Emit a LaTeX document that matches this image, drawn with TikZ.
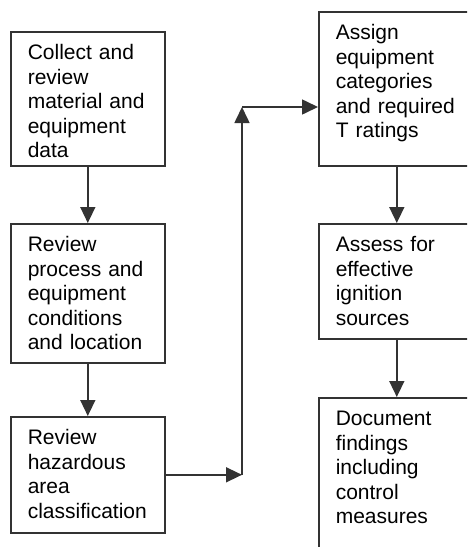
\documentclass[tikz,border=0pt]{standalone}
\usepackage{fontspec}
\setmainfont{Liberation Sans}
\usetikzlibrary{arrows.meta}
\hyphenpenalty=10000
\tikzset{
  stepbox/.style={draw=black!80, line width=1.6pt, rectangle, anchor=north west, align=left,
    inner xsep=17pt, inner ysep=0pt, text height=28pt, font=\fontsize{21}{24.5}\selectfont},
  flow/.style={draw=black!80, line width=1.6pt, -{Triangle[width=15pt,length=16pt]}}
}
\begin{document}
\begin{tikzpicture}[x=1pt,y=-1pt]
\useasboundingbox (0,0) rectangle (467,547);
\clip (0,0) rectangle (467,547);
\node[stepbox, text width=120pt, text depth=106pt] (a) at (10,31) {Collect and\\review\\material and\\equipment\\data};
\node[stepbox, text width=120pt, text depth=111pt] (b) at (10,223) {Review\\process and\\equipment\\conditions\\and location};
\node[stepbox, text width=120pt, text depth=88pt] (c) at (10,416) {Review\\hazardous\\area\\classification};
\node[stepbox, text width=122pt, text depth=126pt] (d) at (318,11) {Assign\\equipment\\categories\\and required\\T ratings};
\node[stepbox, text width=122pt, text depth=87pt] (e) at (318,223) {Assess for\\effective\\ignition\\sources};
\node[stepbox, text width=122pt, text depth=150pt] (f) at (318,397) {Document\\findings\\including\\control\\measures};
\coordinate (turnhigh) at (242,107);
\coordinate (turnlow) at (c.east -| turnhigh);
\draw[flow] (a) -- (b);
\draw[flow] (b) -- (c);
\draw[flow] (c.east) -- (turnlow);
\draw[flow] (turnlow) -- (turnhigh);
\draw[flow] (turnhigh) -- (d.west |- turnhigh);
\draw[flow] (d) -- (e);
\draw[flow] (e) -- (f);
\end{tikzpicture}
\end{document}
